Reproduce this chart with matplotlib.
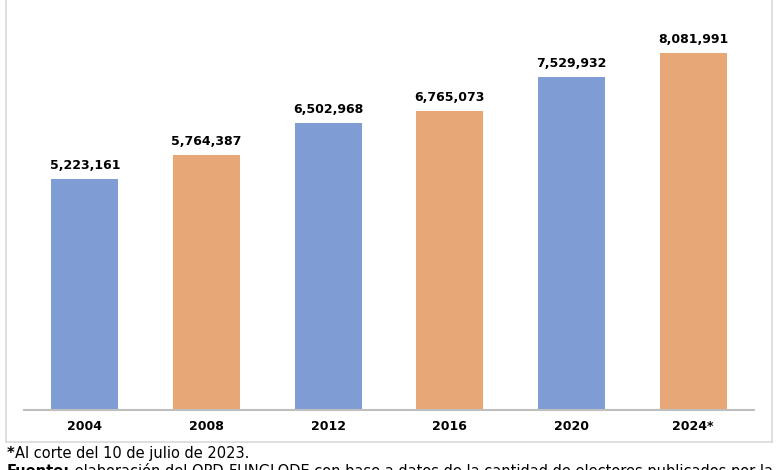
import matplotlib
matplotlib.use("Agg")
import matplotlib.pyplot as plt
from matplotlib.lines import Line2D

years = ["2004", "2008", "2012", "2016", "2020", "2024*"]
electores = [5223161, 5764387, 6502968, 6765073, 7529932, 8081991]
colors = ["#7F9CD4", "#E8A776", "#7F9CD4", "#E8A776", "#7F9CD4", "#E8A776"]
nota = "Al corte del 10 de julio de 2023."
fuente_label = "Fuente:"
fuente_texto = " elaboración del OPD-FUNGLODE con base a datos de la cantidad de electores publicados por la"

plt.rcParams["font.family"] = ["DejaVu Sans"]

W, H = 780, 470
fig = plt.figure(figsize=(W / 100, H / 100), dpi=100)
fig.patch.set_facecolor("white")

# outer chart box
box_col = "#D9D9D9"
fig.add_artist(Line2D([6 / W, 6 / W], [(H - 442) / H, 1.01], transform=fig.transFigure, color=box_col, lw=1.2))
fig.add_artist(Line2D([772 / W, 772 / W], [(H - 442) / H, 1.01], transform=fig.transFigure, color=box_col, lw=1.2))
fig.add_artist(Line2D([6 / W, 772 / W], [(H - 442) / H, (H - 442) / H], transform=fig.transFigure, color=box_col, lw=1.2))

ax_left = 24 / W
ax_right = 754 / W
ax_bottom = (H - 410) / H
ax_height = 9 * 44.2 / H
ax = fig.add_axes([ax_left, ax_bottom, ax_right - ax_left, ax_height])
x = list(range(len(years)))
bars = ax.bar(x, electores, width=0.55, color=colors)
ax.set_xlim(-0.5, len(years) - 0.5)
ax.set_ylim(0, 9e6)
for s in ["top", "right", "left"]:
    ax.spines[s].set_visible(False)
ax.spines["bottom"].set_color("#BFBFBF")
ax.spines["bottom"].set_linewidth(1.5)
ax.set_yticks([])
ax.set_xticks(x)
ax.set_xticklabels(years, fontsize=9, fontweight="bold")
ax.tick_params(axis="x", length=0, pad=7)
ax.patch.set_alpha(0)

for xi, v in zip(x, electores):
    ax.annotate(f"{v:,}", (xi, v), xytext=(0, 7), textcoords="offset points",
                ha="center", va="baseline", fontsize=9, fontweight="bold")

# footnotes
fs = 10.5
y1 = (H - 458) / H
y2 = (H - 476) / H
t1 = fig.text(7 / W, y1, "*", fontsize=fs, fontweight="bold", va="baseline", ha="left")
t3 = fig.text(7 / W, y2, fuente_label, fontsize=fs, fontweight="bold", va="baseline", ha="left")
fig.canvas.draw()
r = fig.canvas.get_renderer()
e1 = t1.get_window_extent(r)
e3 = t3.get_window_extent(r)
fig.text(e1.x1 / W, y1, nota, fontsize=fs, va="baseline", ha="left")
fig.text(e3.x1 / W, y2, fuente_texto, fontsize=fs, va="baseline", ha="left")

fig.savefig("out.png", dpi=100)
